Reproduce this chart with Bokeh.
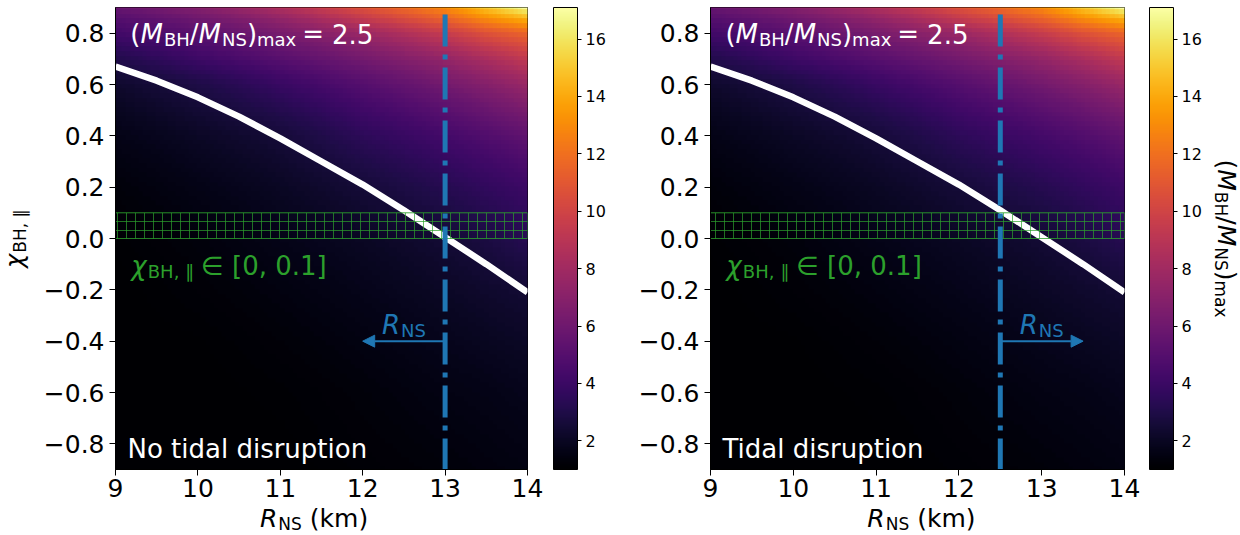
import math
import numpy as np
from bokeh.plotting import figure
from bokeh.models import (LinearColorMapper, ColorBar, FixedTicker, Label, Arrow,
                          NormalHead, CustomJSTickFormatter, Range1d)
from bokeh.layouts import row, column
from bokeh.palettes import Inferno256
from bokeh.embed import file_html
from bokeh.resources import INLINE

# ---------------- data ----------------
R_nodes = [9.0, 10.0, 11.0, 12.0, 13.0, 13.5, 14.0]
chi_nodes = [-0.9, -0.6, -0.4, -0.2, 0.0, 0.2, 0.4, 0.6, 0.7, 0.8, 0.85, 0.9]
ratio_R9 = [1.0, 1.0, 1.0, 1.0, 1.1, 1.3, 1.65, 2.3, 3.1, 4.3, 4.9, 5.7]
ratio_R10 = [1.0, 1.0, 1.05, 1.2, 1.35, 1.65, 2.1, 2.95, 4.1, 5.2, 5.9, 6.9]
ratio_R11 = [1.0, 1.1, 1.25, 1.45, 1.7, 2.05, 2.6, 3.9, 5.1, 6.4, 7.3, 8.6]
ratio_R12 = [1.15, 1.3, 1.5, 1.75, 2.05, 2.6, 3.5, 5.0, 6.2, 7.8, 9.3, 10.8]
ratio_R13 = [1.3, 1.55, 1.8, 2.1, 2.5, 3.25, 4.35, 6.2, 7.5, 9.6, 11.4, 13.1]
ratio_R13p5 = [1.4, 1.65, 1.95, 2.3, 2.85, 3.65, 4.85, 6.9, 8.4, 10.8, 12.9, 15.1]
ratio_R14 = [1.5, 1.8, 2.1, 2.5, 3.3, 4.05, 5.45, 7.7, 9.4, 11.7, 14.2, 17.1]

contour_R = [9.0, 9.5, 10.0, 10.5, 11.0, 11.5, 12.0, 12.5, 13.0, 13.5, 14.0]
contour_chi = [0.67, 0.615, 0.55, 0.475, 0.39, 0.30, 0.21, 0.11, 0.005, -0.10, -0.21]

band_chi = [0.0, 0.1]
R_lim = [9.0, 14.0]
chi_lim = [-0.9, 0.9]
x_ticks = [9, 10, 11, 12, 13, 14]
y_ticks = [-0.8, -0.6, -0.4, -0.2, 0.0, 0.2, 0.4, 0.6, 0.8]
cbar_ticks = [2, 4, 6, 8, 10, 12, 14, 16]
cbar_lim = [1.0, 17.1]

panel_R_line = [13.0, 12.5]
panel_arrow_end = [12.0, 13.5]
arrow_chi = -0.4
rns_text_chi = -0.37
panel_titles = ["No tidal disruption", "Tidal disruption"]

BLUE = "#1f77b4"
GREEN = "#2ca02c"
FONT = "DejaVu Sans"

# ---------------- heat map grid (display of the table above) ----------------
table = np.array([ratio_R9, ratio_R10, ratio_R11, ratio_R12, ratio_R13, ratio_R13p5, ratio_R14]).T
n = 100
Rg = np.linspace(R_lim[0], R_lim[1], n)
Cg = np.linspace(chi_lim[0], chi_lim[1], n)
logt = np.log(table)
tmp = np.array([np.interp(Rg, R_nodes, logt[j]) for j in range(len(chi_nodes))])
Z = np.exp(np.array([np.interp(Cg, chi_nodes, tmp[:, i]) for i in range(n)]).T)
dR = Rg[1] - Rg[0]
dC = Cg[1] - Cg[0]

mapper = LinearColorMapper(palette=Inferno256, low=cbar_lim[0], high=cbar_lim[1])

# ---------------- text helpers ----------------
CW = {' ': .318, '(': .390, ')': .390, '/': .337, '=': .838, '.': .318, ',': .318,
      '[': .390, ']': .390, 'B': .686, 'H': .752, 'M': .863, 'N': .748, 'R': .695,
      'S': .635, 'T': .611, 'a': .613, 'd': .635, 'i': .278, 'k': .579, 'l': .278,
      'm': .974, 'n': .634, 'o': .612, 'p': .635, 'r': .411, 's': .521, 't': .392,
      'u': .634, 'x': .592, 'χ': .60, '∈': .838, '∥': .50}
for d in "0123456789":
    CW[d] = .636

BASE_CORR = 0.31  # baseline correction (fraction of font size, towards text "up")


def tw(s, size):
    return sum(CW.get(ch, 0.6) for ch in s) * size


def rich(p, x, y, segs, color, angle=0.0, align="left"):
    """segs: (text, size_px, italic, drop_px, gap_before_px)"""
    total = sum(g + tw(t, s) for t, s, it, sh, g in segs)
    pos = 0.0 if align == "left" else -total / 2.0
    ax, ay = math.cos(angle), math.sin(angle)
    downx, downy = math.sin(angle), -math.cos(angle)
    for t, s, it, sh, g in segs:
        pos += g
        d = sh - BASE_CORR * s
        p.add_layout(Label(x=x, y=y, x_offset=pos * ax + d * downx,
                           y_offset=pos * ay + d * downy, text=t, angle=angle,
                           text_font=FONT, text_font_size=f"{s}px",
                           text_font_style="italic" if it else "normal",
                           text_color=color, text_align="left",
                           text_baseline="alphabetic"))
        pos += tw(t, s)


def text_fig(w, h):
    f = figure(width=w, height=h, x_range=Range1d(0, w), y_range=Range1d(0, h),
               output_backend="svg", toolbar_location=None, min_border=0,
               x_axis_type=None, y_axis_type=None)
    f.outline_line_color = None
    for g in f.grid:
        g.visible = False
    return f


FRAME_W, FRAME_H = 415, 462
TOP, BOTTOM = 7, 36
XL_H = 30
TOTAL_H = TOP + FRAME_H + BOTTOM + XL_H  # 535


def make_panel(idx, width, bl, cb_gap):
    p = figure(width=width, height=TOP + FRAME_H + BOTTOM, x_range=Range1d(*R_lim),
               y_range=Range1d(*chi_lim), output_backend="svg", toolbar_location=None,
               min_border_left=bl, min_border_right=width - bl - FRAME_W, min_border_top=TOP,
               min_border_bottom=BOTTOM)
    p.xgrid.visible = False
    p.ygrid.visible = False
    p.outline_line_color = "black"
    p.outline_line_width = 1

    p.image(image=[Z], x=R_lim[0] - dR / 2, y=chi_lim[0] - dC / 2,
            dw=(R_lim[1] - R_lim[0]) + dR, dh=(chi_lim[1] - chi_lim[0]) + dC,
            color_mapper=mapper)

    p.line(contour_R, contour_chi, line_color="white", line_width=6.5)

    p.quad(left=[R_lim[0]], right=[R_lim[1]], bottom=[band_chi[0]], top=[band_chi[1]],
           fill_color=None, line_color=GREEN, line_alpha=0.8, line_width=1,
           hatch_pattern="+", hatch_color=GREEN, hatch_alpha=0.7, hatch_scale=9,
           hatch_weight=1)

    xr = panel_R_line[idx]
    p.line([xr, xr], [chi_lim[1], chi_lim[0]], line_color=BLUE, line_width=5,
           line_dash="32 8 5 8", line_dash_offset=46)

    p.add_layout(Arrow(x_start=xr, y_start=arrow_chi, x_end=panel_arrow_end[idx], y_end=arrow_chi,
                       line_color=BLUE, line_width=2,
                       end=NormalHead(size=12, fill_color=BLUE, line_color=BLUE)))

    p.xaxis.ticker = FixedTicker(ticks=x_ticks)
    p.yaxis.ticker = FixedTicker(ticks=y_ticks)
    p.xaxis.formatter = CustomJSTickFormatter(code="return tick.toFixed(0);")
    p.yaxis.formatter = CustomJSTickFormatter(code="return tick.toFixed(1).replace('-', '\u2212');")
    for ax in (p.xaxis, p.yaxis):
        ax.major_label_text_font = FONT
        ax.major_label_text_font_size = "25px"
        ax.major_label_text_color = "black"
        ax.major_tick_out = 6
        ax.major_tick_in = 0
        ax.minor_tick_out = 0
        ax.minor_tick_in = 0
        ax.axis_line_color = "black"
        ax.major_tick_line_color = "black"
    p.xaxis.major_label_standoff = 3
    p.yaxis.major_label_standoff = 5

    cb = ColorBar(color_mapper=mapper, ticker=FixedTicker(ticks=cbar_ticks), width=24,
                  height=FRAME_H, padding=0, margin=0, location=(cb_gap, 0),
                  major_label_text_font=FONT, major_label_text_font_size="16px",
                  major_label_text_color="black",
                  major_tick_out=4, major_tick_in=0, major_tick_line_color="black",
                  minor_tick_out=0, minor_tick_in=0,
                  bar_line_color="black", bar_line_width=1, label_standoff=4,
                  background_fill_alpha=0, border_line_color=None)
    p.add_layout(cb, "right")

    mid_R = (panel_R_line[idx] + panel_arrow_end[idx]) / 2
    rich(p, 9.18, 0.765, [("(", 26, False, 0, 0), ("M", 26, True, 0, 0), ("BH", 18, False, 3, 1),
                          ("/", 26, False, 0, 0), ("M", 26, True, 0, 0), ("NS", 18, False, 3, 1),
                          (")", 26, False, 0, 0), ("max", 18, False, 3, 0),
                          ("=", 26, False, 0, 6), ("2.5", 26, False, 0, 8)], "white")
    rich(p, 9.19, -0.138, [("χ", 26, True, 0, 0), ("BH, ∥", 18, False, 3, 1),
                           ("∈ [0, 0.1]", 26, False, 0, 7)], GREEN)
    rich(p, 9.145, -0.852, [(panel_titles[idx], 26, False, 0, 0)], "white")
    rich(p, mid_R, rns_text_chi, [("R", 26, True, 0, 0), ("NS", 18, False, 3, 1)], BLUE,
         align="center")
    return p


YL_W, P1_W, P2_W, CBL_W = 40, 580, 584, 36
L1, L2 = 72, 90

p1 = make_panel(0, P1_W, L1, 26)
p2 = make_panel(1, P2_W, L2, 25)

xl1 = text_fig(P1_W, XL_H)
xl2 = text_fig(P2_W, XL_H)
for f, lb in ((xl1, L1), (xl2, L2)):
    rich(f, lb + FRAME_W / 2, 9, [("R", 25, True, 0, 0), ("NS", 17, False, 3, 1),
                                  ("(km)", 25, False, 0, 8)], "black", align="center")

yl = text_fig(YL_W, TOTAL_H)
rich(yl, 22, TOTAL_H - (TOP + FRAME_H / 2), [("χ", 24, True, 0, 0), ("BH, ∥", 17, False, 3, 1)],
     "black", angle=math.pi / 2, align="center")

cbl = text_fig(CBL_W, TOTAL_H)
rich(cbl, 14, TOTAL_H - (TOP + FRAME_H / 2),
     [("(", 25, False, 0, 0), ("M", 25, True, 0, 0), ("BH", 17, False, 3, 1), ("/", 25, False, 0, 0),
      ("M", 25, True, 0, 0), ("NS", 17, False, 3, 1), (")", 25, False, 0, 0),
      ("max", 17, False, 3, 0)],
     "black", angle=-math.pi / 2, align="center")

layout = row(yl, column(p1, xl1), column(p2, xl2), cbl)
open("out.html", "w").write(file_html(layout, INLINE))
